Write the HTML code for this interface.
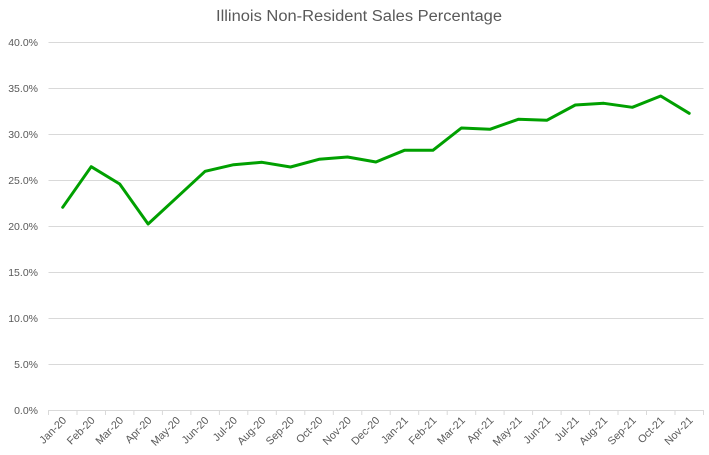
<!DOCTYPE html>
<html><head><meta charset="utf-8"><style>
html,body{margin:0;padding:0;background:#fff;}
svg{display:block;}
text{font-family:"Liberation Sans",sans-serif;fill:#595959;}
</style></head><body>
<svg width="709" height="455" viewBox="0 0 709 455" xmlns="http://www.w3.org/2000/svg">
<rect width="709" height="455" fill="#fff"/>
<text x="359" y="21" font-size="15.5" text-anchor="middle" textLength="286" lengthAdjust="spacingAndGlyphs">Illinois Non-Resident Sales Percentage</text>
<g stroke="#d9d9d9" stroke-width="1">
<line x1="48.5" x2="703.5" y1="42.5" y2="42.5"/>
<line x1="48.5" x2="703.5" y1="88.5" y2="88.5"/>
<line x1="48.5" x2="703.5" y1="134.5" y2="134.5"/>
<line x1="48.5" x2="703.5" y1="180.5" y2="180.5"/>
<line x1="48.5" x2="703.5" y1="226.5" y2="226.5"/>
<line x1="48.5" x2="703.5" y1="272.5" y2="272.5"/>
<line x1="48.5" x2="703.5" y1="318.5" y2="318.5"/>
<line x1="48.5" x2="703.5" y1="364.5" y2="364.5"/>
<line x1="48.5" x2="703.5" y1="410.5" y2="410.5"/>
</g>
<g font-size="10.5" text-anchor="end">
<text x="38" y="46">40.0%</text>
<text x="38" y="92">35.0%</text>
<text x="38" y="138">30.0%</text>
<text x="38" y="184">25.0%</text>
<text x="38" y="230">20.0%</text>
<text x="38" y="276">15.0%</text>
<text x="38" y="322">10.0%</text>
<text x="38" y="368">5.0%</text>
<text x="38" y="414">0.0%</text>
</g>
<g stroke="#d9d9d9" stroke-width="1">
<line x1="48.5" x2="48.5" y1="410" y2="415"/>
<line x1="77" x2="77" y1="410" y2="415"/>
<line x1="105.5" x2="105.5" y1="410" y2="415"/>
<line x1="133.9" x2="133.9" y1="410" y2="415"/>
<line x1="162.4" x2="162.4" y1="410" y2="415"/>
<line x1="190.9" x2="190.9" y1="410" y2="415"/>
<line x1="219.4" x2="219.4" y1="410" y2="415"/>
<line x1="247.8" x2="247.8" y1="410" y2="415"/>
<line x1="276.3" x2="276.3" y1="410" y2="415"/>
<line x1="304.8" x2="304.8" y1="410" y2="415"/>
<line x1="333.3" x2="333.3" y1="410" y2="415"/>
<line x1="361.8" x2="361.8" y1="410" y2="415"/>
<line x1="390.2" x2="390.2" y1="410" y2="415"/>
<line x1="418.7" x2="418.7" y1="410" y2="415"/>
<line x1="447.2" x2="447.2" y1="410" y2="415"/>
<line x1="475.7" x2="475.7" y1="410" y2="415"/>
<line x1="504.1" x2="504.1" y1="410" y2="415"/>
<line x1="532.6" x2="532.6" y1="410" y2="415"/>
<line x1="561.1" x2="561.1" y1="410" y2="415"/>
<line x1="589.6" x2="589.6" y1="410" y2="415"/>
<line x1="618" x2="618" y1="410" y2="415"/>
<line x1="646.5" x2="646.5" y1="410" y2="415"/>
<line x1="675" x2="675" y1="410" y2="415"/>
<line x1="703.5" x2="703.5" y1="410" y2="415"/>
</g>
<g font-size="10.8" text-anchor="end">
<text transform="translate(67,421) rotate(-45)">Jan-20</text>
<text transform="translate(95.5,421) rotate(-45)">Feb-20</text>
<text transform="translate(124,421) rotate(-45)">Mar-20</text>
<text transform="translate(152.4,421) rotate(-45)">Apr-20</text>
<text transform="translate(180.9,421) rotate(-45)">May-20</text>
<text transform="translate(209.4,421) rotate(-45)">Jun-20</text>
<text transform="translate(237.9,421) rotate(-45)">Jul-20</text>
<text transform="translate(266.3,421) rotate(-45)">Aug-20</text>
<text transform="translate(294.8,421) rotate(-45)">Sep-20</text>
<text transform="translate(323.3,421) rotate(-45)">Oct-20</text>
<text transform="translate(351.8,421) rotate(-45)">Nov-20</text>
<text transform="translate(380.2,421) rotate(-45)">Dec-20</text>
<text transform="translate(408.7,421) rotate(-45)">Jan-21</text>
<text transform="translate(437.2,421) rotate(-45)">Feb-21</text>
<text transform="translate(465.7,421) rotate(-45)">Mar-21</text>
<text transform="translate(494.2,421) rotate(-45)">Apr-21</text>
<text transform="translate(522.6,421) rotate(-45)">May-21</text>
<text transform="translate(551.1,421) rotate(-45)">Jun-21</text>
<text transform="translate(579.6,421) rotate(-45)">Jul-21</text>
<text transform="translate(608.1,421) rotate(-45)">Aug-21</text>
<text transform="translate(636.6,421) rotate(-45)">Sep-21</text>
<text transform="translate(665,421) rotate(-45)">Oct-21</text>
<text transform="translate(693.5,421) rotate(-45)">Nov-21</text>
</g>
<polyline fill="none" stroke="#00a000" stroke-width="3" stroke-linejoin="round" stroke-linecap="round"
points="62.7,207.3 91.2,166.7 119.7,184 148.1,224 176.6,197.7 205.1,171.3 233.6,164.7 262,162.3 290.5,167 319,159.3 347.5,157 375.9,162 404.4,150.3 432.9,150.3 461.4,128 489.9,129.3 518.3,119.3 546.8,120.3 575.3,105 603.8,103.3 632.3,107.3 660.7,96 689.2,113.3"/>
</svg>
</body></html>
